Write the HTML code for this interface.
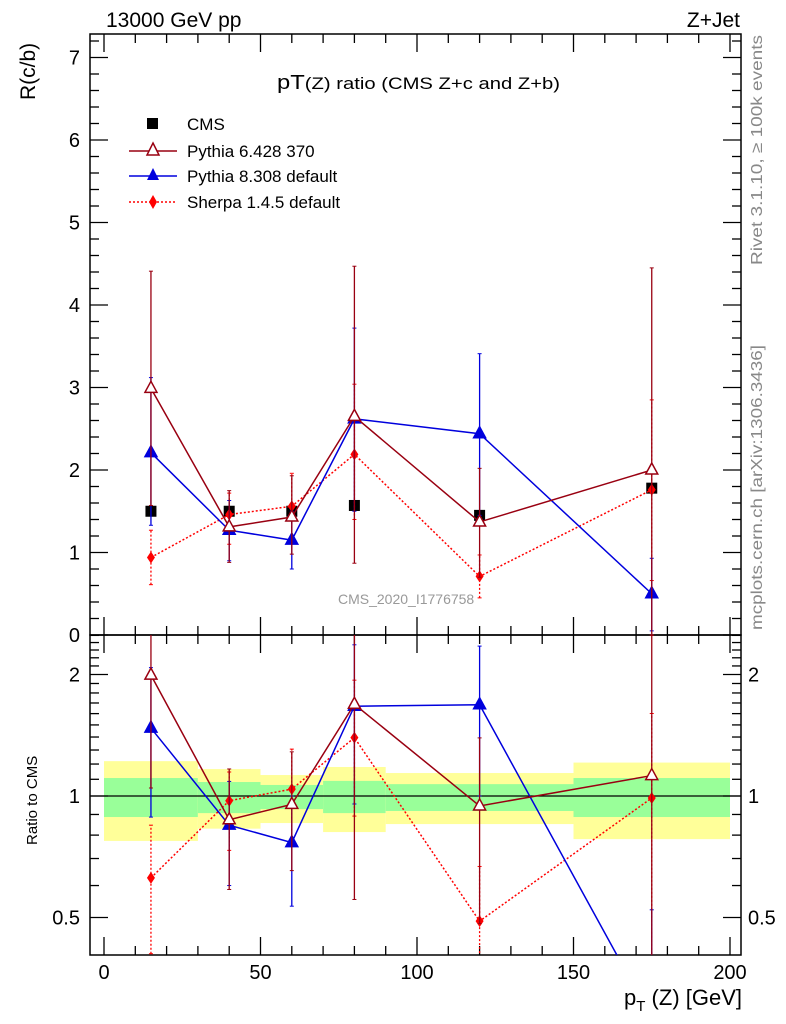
<!DOCTYPE html>
<html><head><meta charset="utf-8"><style>
html,body{margin:0;padding:0;background:#fff;width:786px;height:1024px;overflow:hidden;position:relative;}
svg{display:block;font-family:"Liberation Sans",sans-serif;overflow:hidden;}
#lab{position:absolute;left:0;top:0;}
</style></head><body>
<svg id="c" width="786" height="1024" viewBox="0 0 786 1024"></svg>
<svg id="lab" width="786" height="1024" viewBox="0 0 786 1024">
<text x="106" y="27" font-size="21">13000 GeV pp</text>
<text x="740" y="27" font-size="21" text-anchor="end">Z+Jet</text>
<text transform="translate(35,100) rotate(-90)" font-size="21">R(c/b)</text>
<text x="277" y="89" font-size="20" textLength="283" lengthAdjust="spacingAndGlyphs">pT<tspan font-size="17">(Z) ratio (CMS  Z+c and Z+b)</tspan></text>
<text x="338" y="604" font-size="14" fill="#999">CMS_2020_I1776758</text>
<g font-size="17">
<rect x="147" y="118" width="11" height="11" fill="#000"/>
<text x="187" y="130">CMS</text>
<line x1="129" y1="151" x2="177" y2="151" stroke="#990011" stroke-width="1.5"/>
<path d="M153 143L159 155L147 155Z" fill="#fff" stroke="#990011" stroke-width="1.5"/>
<text x="187" y="157">Pythia 6.428 370</text>
<line x1="129" y1="176" x2="177" y2="176" stroke="#0000dd" stroke-width="1.5"/>
<path d="M153 168L159 180L147 180Z" fill="#0000dd"/>
<text x="187" y="182">Pythia 8.308 default</text>
<line x1="129" y1="202" x2="177" y2="202" stroke="#ff0000" stroke-width="1.5" stroke-dasharray="2,2"/>
<path d="M153 195L157 202L153 209L149 202Z" fill="#ff0000"/>
<text x="187" y="208">Sherpa 1.4.5 default</text>
</g>
<text transform="translate(762,265) rotate(-90)" font-size="16" fill="#888" textLength="230" lengthAdjust="spacingAndGlyphs">Rivet 3.1.10, ≥ 100k events</text>
<text transform="translate(762,630) rotate(-90)" font-size="16" fill="#888" textLength="285" lengthAdjust="spacingAndGlyphs">mcplots.cern.ch [arXiv:1306.3436]</text>
<text transform="translate(37,845) rotate(-90)" font-size="15">Ratio to CMS</text>
<text x="742" y="1005" font-size="22" text-anchor="end">p<tspan font-size="15" dy="6">T</tspan><tspan dy="-6"> (Z) [GeV]</tspan></text>
</svg>
<script>
const xs=[15,40,60,80,120,175];
const cms=[1.50,1.50,1.50,1.57,1.45,1.78];
const py6=[2.99,1.31,1.43,2.65,1.37,2.00];
const py6lo=[1.57,0.88,0.98,0.87,0.70,0.00];
const py6hi=[4.41,1.75,1.93,4.47,2.02,4.45];
const py8=[2.21,1.27,1.15,2.62,2.44,0.50];
const py8lo=[1.33,0.90,0.80,1.50,1.45,0.05];
const py8hi=[3.12,1.63,1.50,3.72,3.41,0.93];
const sh=[0.94,1.46,1.56,2.19,0.71,1.76];
const shlo=[0.61,1.10,1.15,1.40,0.45,0.66];
const shhi=[1.27,1.72,1.96,3.04,0.97,2.85];
const binEdges=[0,30,50,70,90,150,200];
const yelHi=[1.22,1.166,1.127,1.18,1.14,1.21];
const grnHi=[1.108,1.083,1.065,1.09,1.07,1.108];
const grnLo=[0.887,0.907,0.928,0.907,0.918,0.887];
const yelLo=[0.774,0.83,0.857,0.814,0.852,0.782];
const xTicks=[0,50,100,150,200];
const yTicks=[0,1,2,3,4,5,6,7];
const rTicks=[0.5,1,2];

const S=document.getElementById('c');const NS='http://www.w3.org/2000/svg';
function el(t,a,p){const e=document.createElementNS(NS,t);for(const k in a)e.setAttribute(k,a[k]);(p||S).appendChild(e);return e;}
const L=90,R=741,T=34,M=635,B=955;
const X=v=>104+v*(730-104)/200;
const Y=v=>635-v*82.5;
const RY=v=>796-121.5*Math.log2(v);
const clipM=el('clipPath',{id:'cm'});el('rect',{x:L,y:T,width:R-L,height:M-T},clipM);
const clipR=el('clipPath',{id:'cr'});el('rect',{x:L,y:M,width:R-L,height:B-M},clipR);

const gb=el('g',{'clip-path':'url(#cr)'});

for(let i=0;i<6;i++){
 const x0=X(binEdges[i]),x1=X(binEdges[i+1]);
 const y=el('rect',{x:x0,y:RY(yelHi[i]),width:x1-x0,height:RY(yelLo[i])-RY(yelHi[i]),fill:'#ffff99'},gb);
 
 const g=el('rect',{x:x0,y:RY(grnHi[i]),width:x1-x0,height:RY(grnLo[i])-RY(grnHi[i]),fill:'#99ff99'},gb);
 
}
el('line',{x1:L,x2:R,y1:RY(1),y2:RY(1),stroke:'#000','stroke-width':1.3});

for(const [y0,y1,n] of [[T,M,'main-frame'],[M,B,'ratio-frame']]){
 const f=el('rect',{x:L,y:y0,width:R-L,height:y1-y0,fill:'none',stroke:'#000','stroke-width':1.5});
 
}
for(let v=0;v<=200;v+=10){
 const big=v%50==0,len=big?18:9;
 for(const [yb,yt] of [[M,T],[B,M]]){
  el('line',{x1:X(v),x2:X(v),y1:yb,y2:yb-len,stroke:'#000','stroke-width':1.3});
  el('line',{x1:X(v),x2:X(v),y1:yt,y2:yt+len,stroke:'#000','stroke-width':1.3});
 }
}
for(const v of xTicks){const t=el('text',{x:X(v),y:979,'font-size':20,'text-anchor':'middle'});t.textContent=v;
 }
for(let i=0;i<=36;i++){const v=i*0.2;if(Y(v)<T)break;const big=i%5==0,len=big?18:9;
 el('line',{x1:L,x2:L+len,y1:Y(v),y2:Y(v),stroke:'#000','stroke-width':1.3});
 el('line',{x1:R,x2:R-len,y1:Y(v),y2:Y(v),stroke:'#000','stroke-width':1.3});}
for(const v of yTicks){const t=el('text',{x:80,y:Y(v)+7,'font-size':20,'text-anchor':'end'});t.textContent=v;
 }
const rm=[];for(let v=0.4;v<2.55;v+=0.1)rm.push(+v.toFixed(1));
for(const v of rm){const yy=RY(v);if(yy<M||yy>B)continue;const big=(v==0.5||v==1||v==2),len=big?18:9;
 el('line',{x1:L,x2:L+len,y1:yy,y2:yy,stroke:'#000','stroke-width':1.3});
 el('line',{x1:R,x2:R-len,y1:yy,y2:yy,stroke:'#000','stroke-width':1.3});}
for(const v of rTicks){
 const t=el('text',{x:80,y:RY(v)+7,'font-size':20,'text-anchor':'end'});t.textContent=v;
 
 const t2=el('text',{x:748,y:RY(v)+7,'font-size':20});t2.textContent=v;
 
}

function tri(g,x,y,col,filled){el('path',{d:`M${x} ${y-7}L${x+6} ${y+4}L${x-6} ${y+4}Z`,fill:filled?col:'#fff',stroke:col,'stroke-width':1.5},g);}
function dia(g,x,y,col){el('path',{d:`M${x} ${y-6}L${x+4} ${y}L${x} ${y+6}L${x-4} ${y}Z`,fill:col},g);}
function series(vals,lo,hi,col,dash,mk,name,ratio){
 const g=el('g',{'clip-path':ratio?'url(#cr)':'url(#cm)'});
 
 const yf=ratio?(i,v)=>RY(v/cms[i]):(i,v)=>Y(v);
 const pts=xs.map((x,i)=>X(x)+','+yf(i,vals[i])).join(' ');
 el('polyline',{points:pts,fill:'none',stroke:col,'stroke-width':1.5,'stroke-dasharray':dash||'none'},g);
 xs.forEach((x,i)=>{
  const yl=ratio?(lo[i]>0?yf(i,lo[i]):B+10):yf(i,lo[i]);
  el('line',{x1:X(x),x2:X(x),y1:yl,y2:yf(i,hi[i]),stroke:col,'stroke-width':1.3,'stroke-dasharray':dash||'none'},g);
  el('line',{x1:X(x)-2,x2:X(x)+2,y1:yf(i,hi[i]),y2:yf(i,hi[i]),stroke:col},g);
  el('line',{x1:X(x)-2,x2:X(x)+2,y1:yl,y2:yl,stroke:col},g);
  const yv=yf(i,vals[i]);
  if(mk=='o')tri(g,X(x),yv,col,false);else if(mk=='t')tri(g,X(x),yv,col,true);else dia(g,X(x),yv,col);
 });
}
const gc=el('g',{'clip-path':'url(#cm)'});

xs.forEach((x,i)=>{el('rect',{x:X(x)-5.5,y:Y(cms[i])-5.5,width:11,height:11,fill:'#000'},gc);});
for(const r of [false,true]){
 series(sh,shlo,shhi,'#ff0000','2,2','d',r?'sherpa-ratio':'sherpa-series',r);
 series(py8,py8lo,py8hi,'#0000dd',null,'t',r?'pythia8-ratio':'pythia8-series',r);
 series(py6,py6lo,py6hi,'#990011',null,'o',r?'pythia6-ratio':'pythia6-series',r);
}
</script>
</body></html>
